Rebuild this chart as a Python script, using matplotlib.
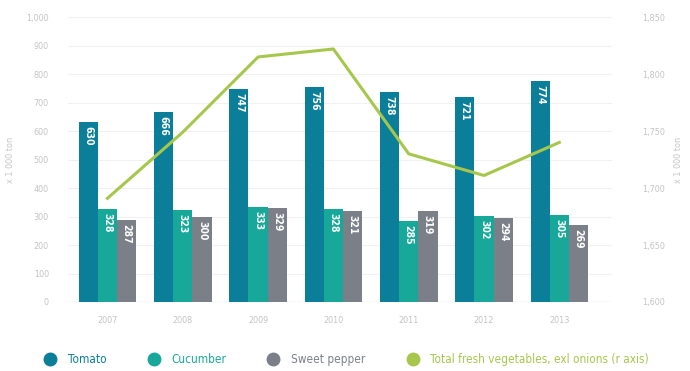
import matplotlib.pyplot as plt
import numpy as np
from matplotlib.lines import Line2D

plt.rcParams["font.family"] = ["DejaVu Sans"]
plt.rcParams["font.stretch"] = "condensed"

YEARS = ["2007", "2008", "2009", "2010", "2011", "2012", "2013"]
TOMATO = [630, 666, 747, 756, 738, 721, 774]
CUCUMBER = [328, 323, 333, 328, 285, 302, 305]
PEPPER = [287, 300, 329, 321, 319, 294, 269]
TOTAL_VEG = [1691, 1749, 1815, 1822, 1730, 1711, 1740]

C_TOMATO = "#0b7e99"
C_CUCUMBER = "#17a89a"
C_PEPPER = "#7b8088"
C_TOTAL = "#a6c74c"
TICK_GREY = "#c4c4c4"

fig = plt.figure(figsize=(6.9, 3.71), dpi=100)
ax = fig.add_axes([0.099, 0.186, 0.788, 0.768])
ax2 = ax.twinx()

x = np.arange(len(YEARS))
w = 0.255
series = [(TOMATO, C_TOMATO, -w), (CUCUMBER, C_CUCUMBER, 0.0), (PEPPER, C_PEPPER, w)]
for vals, col, off in series:
    bars = ax.bar(x + off, vals, width=w, color=col, zorder=3)
    for b, v in zip(bars, vals):
        ax.text(b.get_x() + b.get_width() / 2, v - 14, str(v),
                rotation=-90, ha="center", va="top", color="white",
                fontsize=7.5, fontweight="semibold", zorder=4)

ax.set_xlim(-0.52, 6.7)
ax.set_ylim(0, 1000)
ax.set_yticks(np.arange(0, 1001, 100))
ax.set_yticklabels([f"{v:,}" for v in range(0, 1001, 100)])
ax.set_xticks(x)
ax.set_xticklabels(YEARS)
ax.grid(axis="y", color="#f0f0f0", linewidth=0.8, zorder=0)
ax.set_axisbelow(True)
ax.tick_params(length=0, labelsize=6.5, labelcolor=TICK_GREY, pad=10)
ax.tick_params(axis="y", pad=14)
for s in ax.spines.values():
    s.set_visible(False)
ax.axhline(0, color="#e6e6e6", linewidth=1.0, zorder=2)
ax.set_ylabel("x 1 000 ton", color=TICK_GREY, fontsize=6.5, labelpad=8)

ax2.plot(x, TOTAL_VEG, color=C_TOTAL, linewidth=2.2, zorder=5)
ax2.set_ylim(1600, 1850)
ax2.set_yticks(np.arange(1600, 1851, 50))
ax2.set_yticklabels([f"{v:,}" for v in range(1600, 1851, 50)])
ax2.tick_params(length=0, labelsize=6.5, labelcolor=TICK_GREY, pad=22)
for s in ax2.spines.values():
    s.set_visible(False)
ax2.set_ylabel("x 1 000 ton", color=TICK_GREY, fontsize=6.5, rotation=90, labelpad=6)

handles = [
    Line2D([], [], marker="o", linestyle="", color=c, markersize=9)
    for c in (C_TOMATO, C_CUCUMBER, C_PEPPER, C_TOTAL)
]
labels = ["Tomato", "Cucumber", "Sweet pepper", "Total fresh vegetables, exl onions (r axis)"]
leg = fig.legend(handles, labels, loc="lower left", bbox_to_anchor=(0.04, -0.015),
                 ncol=4, frameon=False, fontsize=8.5, handletextpad=0.5,
                 columnspacing=3.0)
for t, c in zip(leg.get_texts(), (C_TOMATO, C_CUCUMBER, C_PEPPER, C_TOTAL)):
    t.set_color(c)

fig.savefig("out.png", dpi=100)
